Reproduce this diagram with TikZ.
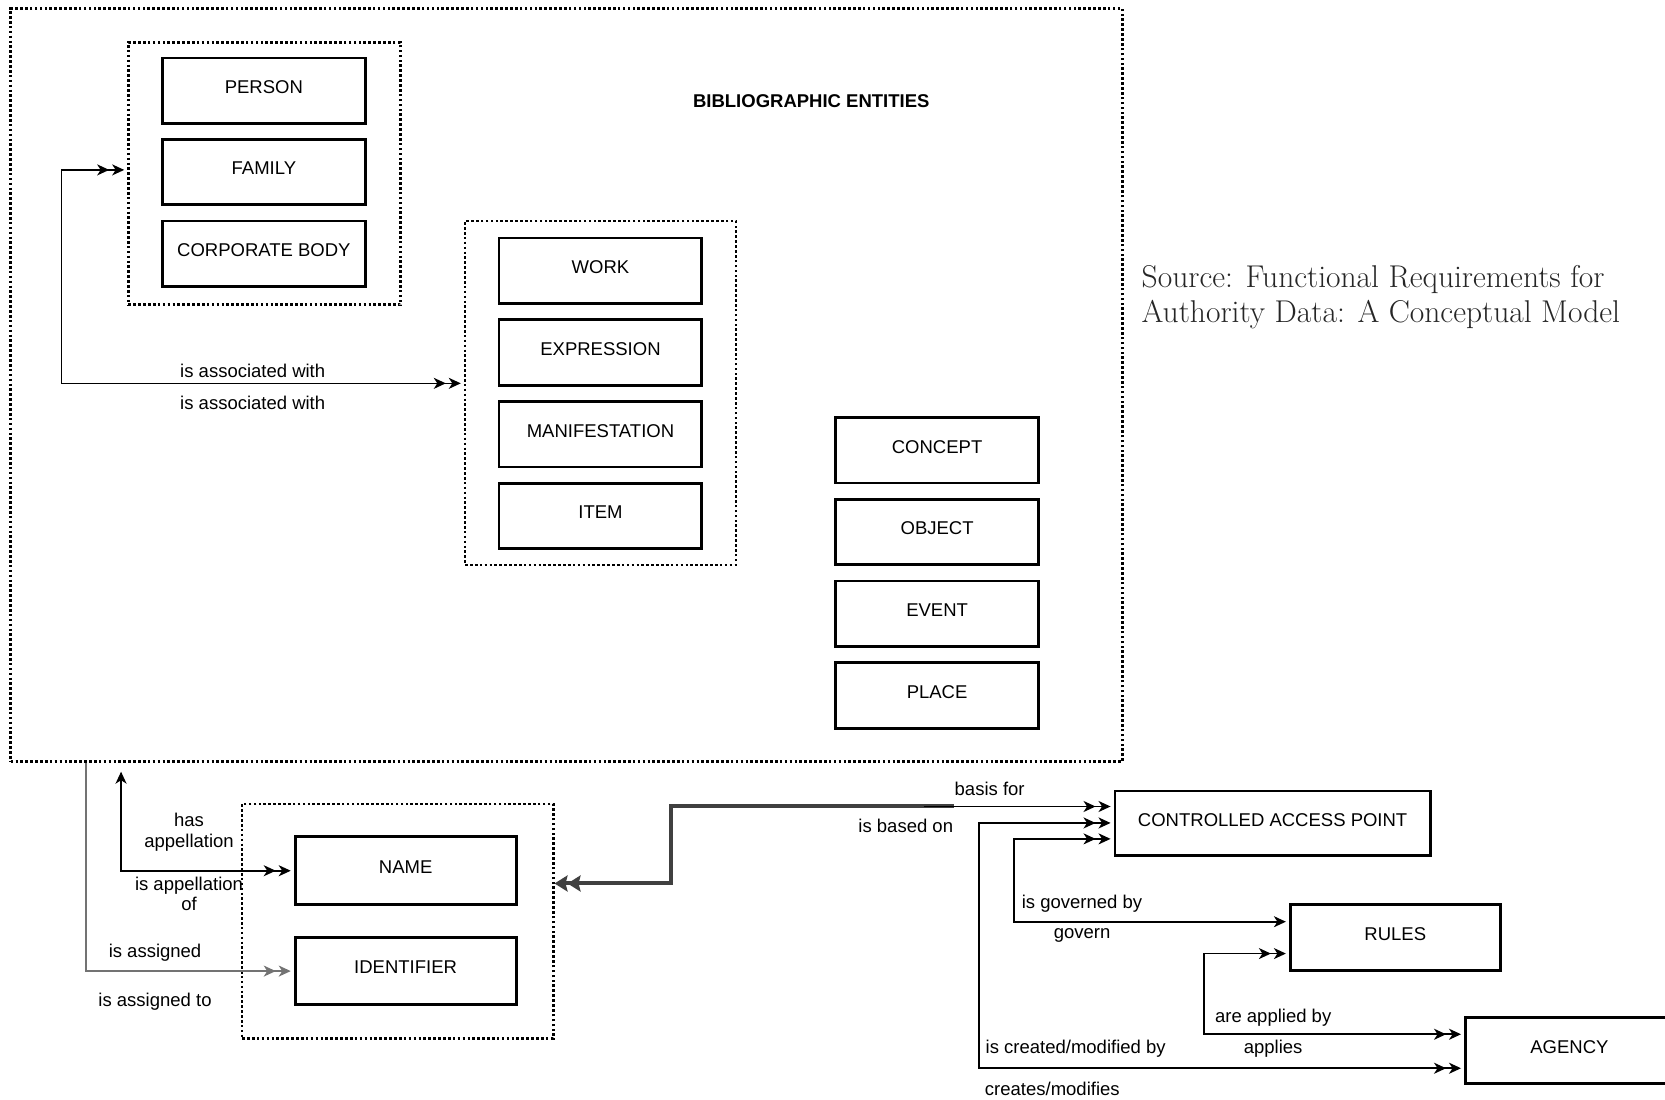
\documentclass[tikz,border=0pt]{standalone}
\usepackage{fontspec}
\newfontfamily\arial{Liberation Sans}
\usetikzlibrary{arrows.meta,fit}
\begin{document}
\begin{tikzpicture}[x=1.0619pt, y=-1.0619pt,
  >={Stealth[length=12pt,width=11pt,inset=3.5pt,sep=3pt]},
  every node/.style={font=\arial\fontsize{18.5}{20.5}\selectfont},
  ent/.style={draw, line width=2.8pt, minimum width=202.8pt, minimum height=65.5pt, inner sep=0pt, text depth=7pt},
  grp/.style={draw, line width=2.6pt, dash pattern=on 2.6pt off 2.3pt, inner sep=0pt},
  conn/.style={line width=1.6pt},
  lbl/.style={inner sep=0pt, align=center},
  src/.style={font=\rmfamily\fontsize{31.5}{35}\selectfont, text=black!85, anchor=base west, inner sep=0pt},
]
\useasboundingbox (0,0) rectangle (1568,1035);

% bibliographic entities
\node[grp, fit={(10,8) (1057,717)}] (outer) {};
\node[font=\arial\bfseries\fontsize{18.5}{20.5}\selectfont] (title) at (764,95) {BIBLIOGRAPHIC ENTITIES};

\node[grp, fit={(121,40) (377,287)}] (g1) {};
\node[ent] (person) at (248.5,85.5) {PERSON};
\node[ent] (family) at (248.5,162) {FAMILY};
\node[ent] (corp) at (248.5,239) {CORPORATE BODY};

\node[grp, fit={(438,208) (693,532)}] (g2) {};
\node[ent] (work) at (565.5,255) {WORK};
\node[ent] (expr) at (565.5,332) {EXPRESSION};
\node[ent] (mani) at (565.5,409) {MANIFESTATION};
\node[ent] (item) at (565.5,486) {ITEM};

\node[ent] (concept) at (882.5,424) {CONCEPT};
\node[ent] (object) at (882.5,501) {OBJECT};
\node[ent] (event) at (882.5,578) {EVENT};
\node[ent] (place) at (882.5,655) {PLACE};

% name / identifier
\node[grp, fit={(228,757) (521,978)}] (g3) {};
\node[ent, minimum width=221pt, minimum height=68pt] (name) at (382,820) {NAME};
\node[ent, minimum width=221pt, minimum height=67pt] (ident) at (382,914.5) {IDENTIFIER};

% access point, rules, agency
\node[ent, minimum width=315.4pt, minimum height=64.8pt] (cap) at (1198.5,775.5) {CONTROLLED ACCESS POINT};
\node[ent, minimum width=210pt, minimum height=66pt] (rules) at (1314,883) {RULES};
\node[ent, minimum width=208pt, minimum height=66pt] (agency) at (1478,989) {AGENCY};

% source
\node[src] (src1) at (1075,271) {Source: Functional Requirements for};
\node[src] (src2) at (1075,304) {Authority Data: A Conceptual Model};

% connectors
\draw[conn, <<->>] (g1.west |- 0,160) -- (58,160) -- (58,361) -- (g2.west |- 0,361);
\node[lbl] (a1) at (238,349) {is associated with};
\node[lbl] (a2) at (238,379) {is associated with};

\draw[conn, <->>, shorten <=6pt] (outer.south -| 114,0) |- (name.west);
\node[lbl] (h1) at (178,783.5) {has\\appellation};
\node[lbl] (h2) at (178,842) {is appellation\\of};

\draw[conn, draw=black!55, ->>] (outer.south -| 81,0) |- (ident.west);
\node[lbl] (s1) at (146,897) {is assigned};
\node[lbl] (s2) at (146,943) {is assigned to};

\draw[line width=4pt, draw=black!75, <<-, >={Stealth[length=13pt,width=16pt,inset=2pt,sep=0pt]}]
  (g3.east |- 0,832) -- (632,832) -- (632,759.5) -- (898,759.5) coordinate (j1);
\draw[conn, ->>] ([xshift=-30pt]j1) -- (cap.west |- j1);
\node[lbl] (b1) at (932,743) {basis for};
\node[lbl] (b2) at (853,778) {is based on};

\draw[conn, <<->>] (cap.west |- 0,775) -- (922,775) |- (agency.west |- 0,1006);
\node[lbl] (c1) at (1013,988) {is created/modified by};
\node[lbl] (c2) at (991,1025) {creates/modifies};

\draw[conn, <<->] (cap.west |- 0,790) -- (955,790) |- (rules.west |- 0,868);
\node[lbl] (r1) at (1019,851) {is governed by};
\node[lbl] (r2) at (1019,881) {govern};

\draw[conn, <<->>] (rules.west |- 0,898) -- (1134,898) |- (agency.west |- 0,974);
\node[lbl] (p1) at (1199,958) {are applied by};
\node[lbl] (p2) at (1199,988) {applies};
\end{tikzpicture}
\end{document}
